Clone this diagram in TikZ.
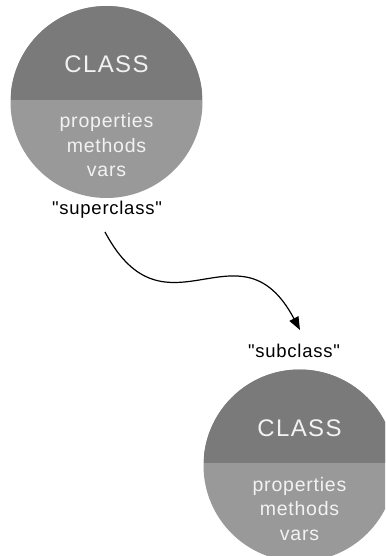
\documentclass[tikz,border=0pt]{standalone}
\usepackage{fontspec}
\setmainfont{Liberation Sans}
\usepackage{tikz}
\usetikzlibrary{arrows.meta,positioning,calc}
\definecolor{clsdark}{RGB}{122,122,122}
\definecolor{clslight}{RGB}{153,153,153}
\definecolor{clstext}{RGB}{242,242,242}
\newfontfamily\titlefont[LetterSpace=6]{Liberation Sans}
\newfontfamily\memberfont[LetterSpace=4]{Liberation Sans}
\tikzstyle{arrow} = [line width=1.2pt,-{Triangle[length=13pt,width=10pt]}]
\tikzstyle{classcircle} = [circle, minimum size=192pt, inner sep=0pt, fill=clslight, path picture={\fill[clsdark] ([yshift=2pt]path picture bounding box.west) rectangle (path picture bounding box.north east);}]
\tikzstyle{classname} = [anchor=base, inner sep=0pt, text=clstext, font=\titlefont\fontsize{24}{24}\selectfont]
\tikzstyle{classmembers} = [anchor=base, inner sep=0pt, text=clstext, align=center, font=\memberfont\fontsize{19.5}{24.5}\selectfont]
\tikzstyle{rolelabel} = [anchor=base, inner sep=0pt, font=\memberfont\fontsize{18.5}{18.5}\selectfont]

\begin{document}
\begin{tikzpicture}[x=1pt,y=1pt]
\clip (0,0) rectangle (385,556);
% Superclass
\node[classcircle] (super) at (106.5,454) {};
\node[classname] (supername) at ([yshift=29.3pt]super.center) {CLASS};
\node[classmembers] (supermembers) at ([yshift=-75pt]super.center) {properties\\methods\\vars};
\node[rolelabel] (superlbl) at (107,341.3) {"superclass"};

% Subclass
\node[rolelabel] (sublbl) at (294,198) {"subclass"};
\node[classcircle] (sub) at (299.5,90.5) {};
\node[classname] (subname) at ([yshift=29.3pt]sub.center) {CLASS};
\node[classmembers] (submembers) at ([yshift=-75pt]sub.center) {properties\\methods\\vars};

% Inheritance
\draw[arrow] ([shift={(-2pt,-17.3pt)}]superlbl.base) .. controls +(60.6,-114) and +(-60.6,114) .. ([shift={(6pt,28pt)}]sublbl.base);
\end{tikzpicture}
\end{document}
